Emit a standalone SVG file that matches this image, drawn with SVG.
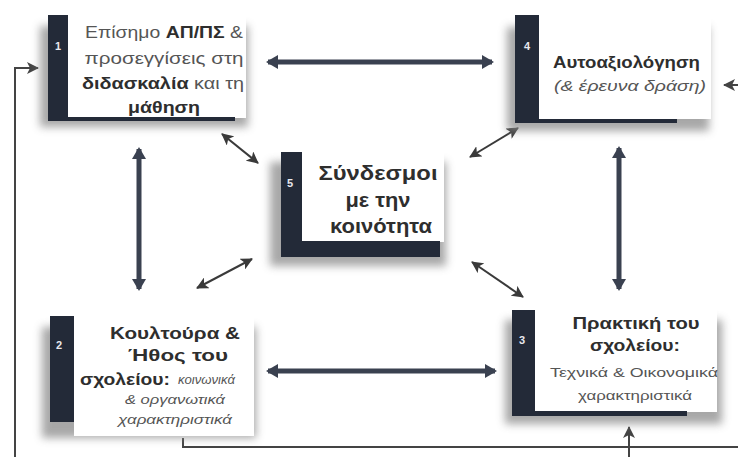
<svg xmlns="http://www.w3.org/2000/svg" width="738" height="457" viewBox="0 0 738 457">
<style>
.t{font-family:"Liberation Sans",Arial,sans-serif;fill:#555;text-anchor:middle}
.s{text-anchor:start}
.b{font-weight:bold;fill:#2e2e2e}
.i{font-style:italic}
.num{font-family:"Liberation Sans",Arial,sans-serif;font-size:11px;font-weight:bold;fill:#e8e8ee;text-anchor:middle}
.bar{fill:#232a38}
.sh{fill:#8a8a8a;opacity:0.75;filter:url(#blur)}
.thick{stroke:#3a4150;stroke-width:5;fill:none}
.thin{stroke:#3a3a3a;stroke-width:2;fill:none}
.fb{stroke:#444;stroke-width:2;fill:none}
</style>
<defs>
<filter id="blur" x="-20%" y="-20%" width="140%" height="140%"><feGaussianBlur stdDeviation="4"/></filter>
<marker id="ta" markerUnits="userSpaceOnUse" markerWidth="16" markerHeight="16" refX="10" refY="8" orient="auto-start-reverse"><path d="M0,1 L12,8 L0,15 Z" fill="#3a4150"/></marker>
<marker id="sa" markerUnits="userSpaceOnUse" markerWidth="14" markerHeight="12" refX="11" refY="6" orient="auto-start-reverse"><path d="M0,0 L12,6 L0,12 L3,6 Z" fill="#3a3a3a"/></marker>
<marker id="fa" markerUnits="userSpaceOnUse" markerWidth="14" markerHeight="14" refX="11" refY="7" orient="auto"><path d="M0,1 L12,7 L0,13 L3,7 Z" fill="#444"/></marker>
</defs>
<rect width="738" height="457" fill="#ffffff"/>

<g id="connectors">
<line class="thick" x1="268" y1="62" x2="492" y2="62" marker-start="url(#ta)" marker-end="url(#ta)"/>
<line class="thick" x1="268" y1="371" x2="495" y2="371" marker-start="url(#ta)" marker-end="url(#ta)"/>
<line class="thick" x1="139" y1="149" x2="139" y2="289" marker-start="url(#ta)" marker-end="url(#ta)"/>
<line class="thick" x1="619" y1="148" x2="619" y2="289" marker-start="url(#ta)" marker-end="url(#ta)"/>
<line class="thin" x1="222" y1="134" x2="258" y2="163" marker-start="url(#sa)" marker-end="url(#sa)"/>
<line class="thin" x1="518" y1="128" x2="470" y2="157" marker-start="url(#sa)" marker-end="url(#sa)"/>
<line class="thin" x1="252" y1="259" x2="197" y2="288" marker-start="url(#sa)" marker-end="url(#sa)"/>
<line class="thin" x1="472" y1="262" x2="523" y2="297" marker-start="url(#sa)" marker-end="url(#sa)"/>
<path class="fb" d="M15,457 V68 H38" marker-end="url(#fa)"/>
<path class="fb" d="M183,438 V447 H738"/>
<line class="fb" x1="629" y1="457" x2="629" y2="427" marker-end="url(#fa)"/>
<line class="fb" x1="738" y1="85" x2="724" y2="85" marker-end="url(#fa)"/>
</g>

<g id="node1">
<rect class="sh" x="40" y="26" width="208" height="101"/>
<rect x="68" y="13" width="178" height="105" fill="#fff"/>
<rect class="bar" x="48" y="15" width="20" height="106"/>
<rect class="bar" x="48" y="117" width="187" height="4"/>
<text class="num" x="58" y="50">1</text>
<text class="t" font-size="17" x="164" y="38" textLength="158" lengthAdjust="spacingAndGlyphs">Επίσημο <tspan class="b">ΑΠ/ΠΣ</tspan> &amp;</text>
<text class="t" font-size="17" x="164" y="64" textLength="159" lengthAdjust="spacingAndGlyphs">προσεγγίσεις στη</text>
<text class="t" font-size="17" x="163" y="89" textLength="162" lengthAdjust="spacingAndGlyphs"><tspan class="b">διδασκαλία</tspan> και τη</text>
<text class="t b" font-size="17" x="164" y="113" textLength="72" lengthAdjust="spacingAndGlyphs">μάθηση</text>
</g>

<g id="node4">
<rect class="sh" x="507" y="27" width="202" height="104"/>
<rect x="539" y="13" width="172" height="106" fill="#fff"/>
<rect class="bar" x="515" y="15" width="24" height="108"/>
<rect class="bar" x="515" y="119" width="162" height="4"/>
<text class="num" x="527" y="50">4</text>
<text class="t b s" font-size="17" x="553" y="68" textLength="147" lengthAdjust="spacingAndGlyphs">Αυτοαξιολόγηση</text>
<text class="t i s" font-size="15" x="554" y="91" textLength="152" lengthAdjust="spacingAndGlyphs">(&amp; έρευνα δράση)</text>
</g>

<g id="node5">
<rect class="sh" x="270" y="162" width="176" height="104"/>
<rect x="302" y="150" width="142" height="92" fill="#fff"/>
<rect class="bar" x="281" y="152" width="21" height="105"/>
<rect class="bar" x="281" y="241" width="159" height="16"/>
<text class="num" x="290" y="187">5</text>
<text class="t b" font-size="21" x="378" y="180" textLength="119" lengthAdjust="spacingAndGlyphs">Σύνδεσμοι</text>
<text class="t b" font-size="21" x="378" y="207" textLength="65" lengthAdjust="spacingAndGlyphs">με την</text>
<text class="t b" font-size="21" x="381" y="233" textLength="102" lengthAdjust="spacingAndGlyphs">κοινότητα</text>
</g>

<g id="node2">
<rect class="sh" x="42" y="327" width="214" height="111"/>
<rect x="74" y="314" width="180" height="122" fill="#fff"/>
<rect class="bar" x="50" y="316" width="24" height="106"/>
<text class="num" x="59" y="349">2</text>
<text class="t b" font-size="17" x="175" y="339" textLength="130" lengthAdjust="spacingAndGlyphs">Κουλτούρα &amp;</text>
<text class="t b" font-size="17" x="178" y="361" textLength="100" lengthAdjust="spacingAndGlyphs">Ήθος του</text>
<text class="t b s" font-size="17" x="80" y="385" textLength="90" lengthAdjust="spacingAndGlyphs">σχολείου:</text>
<text class="t i s" font-size="12" x="178" y="384" textLength="57" lengthAdjust="spacingAndGlyphs">κοινωνικά</text>
<text class="t i" font-size="12" x="175" y="404" textLength="100" lengthAdjust="spacingAndGlyphs">&amp; οργανωτικά</text>
<text class="t i" font-size="12" x="175" y="424" textLength="114" lengthAdjust="spacingAndGlyphs">χαρακτηριστικά</text>
</g>

<g id="node3">
<rect class="sh" x="505" y="320" width="217" height="104"/>
<rect x="535" y="306" width="182" height="106" fill="#fff"/>
<rect class="bar" x="512" y="310" width="23" height="106"/>
<rect class="bar" x="512" y="411" width="175" height="5"/>
<text class="num" x="522" y="344">3</text>
<text class="t b" font-size="17" x="636" y="329" textLength="127" lengthAdjust="spacingAndGlyphs">Πρακτική του</text>
<text class="t b" font-size="17" x="635" y="351" textLength="90" lengthAdjust="spacingAndGlyphs">σχολείου:</text>
<text class="t" font-size="13" x="634" y="377" textLength="168" lengthAdjust="spacingAndGlyphs">Τεχνικά &amp; Οικονομικά</text>
<text class="t" font-size="13" x="635" y="400" textLength="114" lengthAdjust="spacingAndGlyphs">χαρακτηριστικά</text>
</g>
</svg>
